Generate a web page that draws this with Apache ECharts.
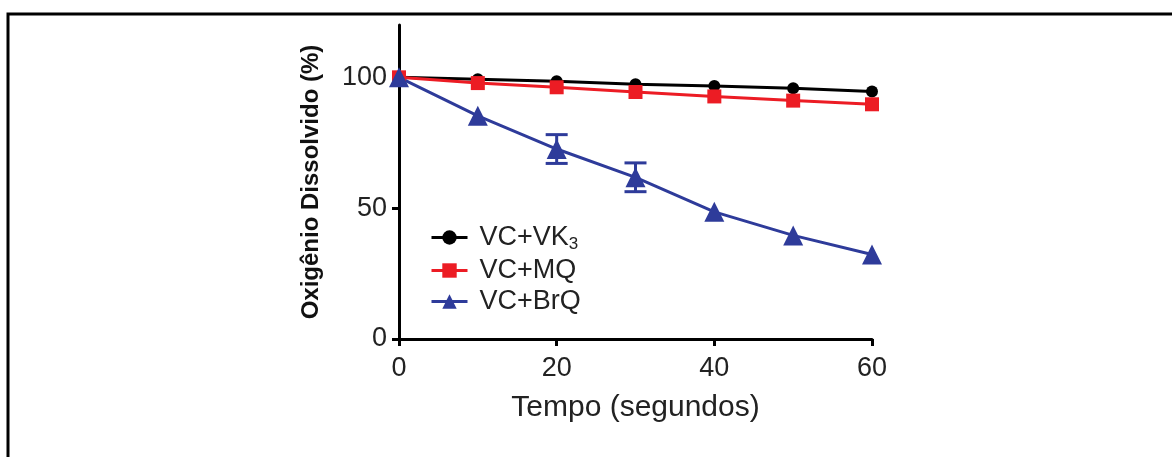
<!DOCTYPE html>
<html>
<head>
<meta charset="utf-8">
<script src="https://cdn.jsdelivr.net/npm/echarts@6/dist/echarts.min.js"></script>
<style>
  html, body { margin: 0; padding: 0; background: #fff; }
  #chart { width: 1172px; height: 457px; }
</style>
</head>
<body>
<div id="chart"></div>
<script>
// Time points (seconds)
const tempo = [0, 10, 20, 30, 40, 50, 60];
// Dissolved oxygen (%) for each treatment
const vk3 = [100, 99.3, 98.5, 97.4, 96.7, 95.8, 94.6];
const mq = [100, 97.8, 96.2, 94.4, 92.7, 91.1, 89.7];
const brq = [100, 85.3, 72.6, 61.8, 48.6, 39.6, 32.3];
// Standard error for VC+BrQ (bars smaller than the symbol are not drawn)
const brqErr = [0, 0, 5.5, 5.5, 0, 0, 0];
const seriesNames = ['VC+VK3', 'VC+MQ', 'VC+BrQ'];
const xTicks = [0, 20, 40, 60];
const yTicks = [0, 50, 100];

const FONT = '"Liberation Sans", Arial, sans-serif';
const BLACK = '#000000', RED = '#ec1c24', BLUE = '#2e3b9a';

const pts = ys => tempo.map((t, i) => [t, ys[i]]);

const chart = echarts.init(document.getElementById('chart'), null, { renderer: 'canvas' });

const lineSeries = (name, data, color, symbol, size) => ({
  name, type: 'line', data: pts(data),
  symbol, symbolSize: size, showSymbol: true,
  lineStyle: { color, width: 3 },
  itemStyle: { color },
  z: 3
});

chart.setOption({
  animation: false,
  backgroundColor: '#fff',
  graphic: [{
    type: 'rect', z: 0,
    shape: { x: 8, y: 14, width: 1300, height: 600 },
    style: { fill: 'none', stroke: '#000', lineWidth: 3 }
  }],
  grid: { left: 399, top: 25, right: 300, bottom: 118, containLabel: false },
  legend: {
    orient: 'vertical', left: 425, top: 219,
    itemWidth: 36, itemHeight: 18, itemGap: 4,
    data: seriesNames,
    lineStyle: { width: 3 },
    textStyle: {
      fontFamily: FONT, fontSize: 27, color: '#222',
      padding: [0, 0, 0, 7],
      rich: {
        sub: { fontFamily: FONT, fontSize: 17, color: '#222', padding: [14, 0, 0, 0] }
      }
    },
    formatter: n => n === 'VC+VK3' ? 'VC+VK{sub|3}' : n
  },
  xAxis: {
    type: 'value', min: 0, max: 60, interval: 20,
    name: 'Tempo (segundos)', nameLocation: 'middle', nameGap: 54,
    nameTextStyle: { fontFamily: FONT, fontSize: 30, color: '#222' },
    axisLine: { lineStyle: { color: '#000', width: 3 } },
    axisTick: { show: true, length: 7, lineStyle: { color: '#000', width: 3 } },
    axisLabel: {
      fontFamily: FONT, fontSize: 27, color: '#222', margin: 16,
      formatter: v => xTicks.includes(v) ? String(v) : ''
    },
    splitLine: { show: false }
  },
  yAxis: {
    type: 'value', min: 0, max: 120, interval: 50,
    name: 'Oxigênio Dissolvido (%)', nameLocation: 'middle', nameGap: 76,
    nameTextStyle: { fontFamily: FONT, fontSize: 24, fontWeight: 'bold', color: '#111' },
    axisLine: { lineStyle: { color: '#000', width: 3 } },
    axisTick: { show: true, length: 7, lineStyle: { color: '#000', width: 3 } },
    axisLabel: {
      fontFamily: FONT, fontSize: 27, color: '#222', margin: 12,
      formatter: v => yTicks.includes(v) ? String(v) : '',
      showMaxLabel: false
    },
    splitLine: { show: false }
  },
  series: [
    lineSeries(seriesNames[0], vk3, BLACK, 'circle', 12),
    lineSeries(seriesNames[1], mq, RED, 'rect', 14),
    lineSeries(seriesNames[2], brq, BLUE, 'triangle', 20),
    {
      // error bars for VC+BrQ
      type: 'custom', name: 'errBrQ', z: 2,
      data: tempo.map((t, i) => [t, brq[i] - brqErr[i], brq[i] + brqErr[i]]),
      renderItem: (params, api) => {
        if (api.value(2) === api.value(1)) return null;
        const lo = api.coord([api.value(0), api.value(1)]);
        const hi = api.coord([api.value(0), api.value(2)]);
        const w = 11;
        const st = { stroke: BLUE, lineWidth: 3 };
        return {
          type: 'group',
          children: [
            { type: 'line', shape: { x1: lo[0], y1: lo[1], x2: hi[0], y2: hi[1] }, style: st },
            { type: 'line', shape: { x1: hi[0] - w, y1: hi[1], x2: hi[0] + w, y2: hi[1] }, style: st },
            { type: 'line', shape: { x1: lo[0] - w, y1: lo[1], x2: lo[0] + w, y2: lo[1] }, style: st }
          ]
        };
      }
    }
  ]
});
</script>
</body>
</html>
